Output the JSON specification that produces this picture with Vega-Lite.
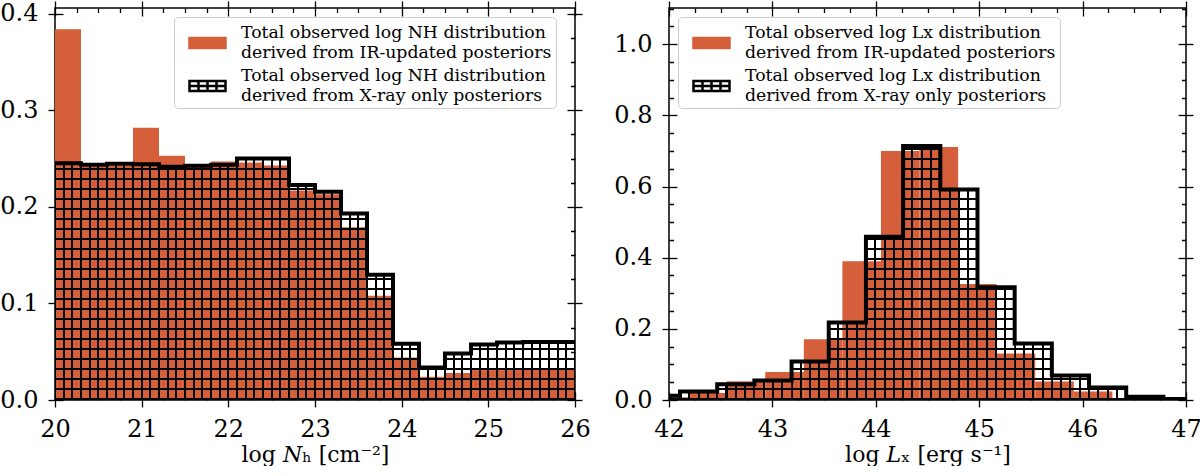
{
  "$schema": "https://vega.github.io/schema/vega-lite/v6.json",
  "padding": {"left": -1, "top": -5, "right": 0, "bottom": 0},
  "spacing": 21,
  "datasets": {
    "nh_ir": [
      {"x0": 20.0, "x1": 20.3, "h": 0.384, "series": "IR"},
      {"x0": 20.3, "x1": 20.6, "h": 0.242, "series": "IR"},
      {"x0": 20.6, "x1": 20.9, "h": 0.243, "series": "IR"},
      {"x0": 20.9, "x1": 21.2, "h": 0.282, "series": "IR"},
      {"x0": 21.2, "x1": 21.5, "h": 0.253, "series": "IR"},
      {"x0": 21.5, "x1": 21.8, "h": 0.242, "series": "IR"},
      {"x0": 21.8, "x1": 22.1, "h": 0.247, "series": "IR"},
      {"x0": 22.1, "x1": 22.4, "h": 0.246, "series": "IR"},
      {"x0": 22.4, "x1": 22.7, "h": 0.243, "series": "IR"},
      {"x0": 22.7, "x1": 23.0, "h": 0.217, "series": "IR"},
      {"x0": 23.0, "x1": 23.3, "h": 0.213, "series": "IR"},
      {"x0": 23.3, "x1": 23.6, "h": 0.179, "series": "IR"},
      {"x0": 23.6, "x1": 23.9, "h": 0.108, "series": "IR"},
      {"x0": 23.9, "x1": 24.2, "h": 0.044, "series": "IR"},
      {"x0": 24.2, "x1": 24.5, "h": 0.024, "series": "IR"},
      {"x0": 24.5, "x1": 24.8, "h": 0.028, "series": "IR"},
      {"x0": 24.8, "x1": 25.1, "h": 0.031, "series": "IR"},
      {"x0": 25.1, "x1": 25.4, "h": 0.031, "series": "IR"},
      {"x0": 25.4, "x1": 25.7, "h": 0.032, "series": "IR"},
      {"x0": 25.7, "x1": 26.0, "h": 0.032, "series": "IR"}
    ],
    "nh_xr": [
      {"x0": 20.0, "x1": 20.3, "h": 0.2451},
      {"x0": 20.3, "x1": 20.6, "h": 0.2437},
      {"x0": 20.6, "x1": 20.9, "h": 0.2448},
      {"x0": 20.9, "x1": 21.2, "h": 0.2441},
      {"x0": 21.2, "x1": 21.5, "h": 0.2417},
      {"x0": 21.5, "x1": 21.8, "h": 0.2427},
      {"x0": 21.8, "x1": 22.1, "h": 0.2437},
      {"x0": 22.1, "x1": 22.4, "h": 0.2502},
      {"x0": 22.4, "x1": 22.7, "h": 0.2502},
      {"x0": 22.7, "x1": 23.0, "h": 0.2227},
      {"x0": 23.0, "x1": 23.3, "h": 0.2158},
      {"x0": 23.3, "x1": 23.6, "h": 0.1931},
      {"x0": 23.6, "x1": 23.9, "h": 0.1298},
      {"x0": 23.9, "x1": 24.2, "h": 0.0582},
      {"x0": 24.2, "x1": 24.5, "h": 0.0337},
      {"x0": 24.5, "x1": 24.8, "h": 0.0482},
      {"x0": 24.8, "x1": 25.1, "h": 0.0575},
      {"x0": 25.1, "x1": 25.4, "h": 0.0596},
      {"x0": 25.4, "x1": 25.7, "h": 0.0602},
      {"x0": 25.7, "x1": 26.0, "h": 0.0602}
    ],
    "lx_ir": [
      {"x0": 41.812, "x1": 42.185, "h": 0.008, "series": "IR"},
      {"x0": 42.185, "x1": 42.558, "h": 0.02, "series": "IR"},
      {"x0": 42.558, "x1": 42.931, "h": 0.053, "series": "IR"},
      {"x0": 42.931, "x1": 43.304, "h": 0.079, "series": "IR"},
      {"x0": 43.304, "x1": 43.677, "h": 0.171, "series": "IR"},
      {"x0": 43.677, "x1": 44.05, "h": 0.39, "series": "IR"},
      {"x0": 44.05, "x1": 44.423, "h": 0.70, "series": "IR"},
      {"x0": 44.423, "x1": 44.796, "h": 0.711, "series": "IR"},
      {"x0": 44.796, "x1": 45.169, "h": 0.326, "series": "IR"},
      {"x0": 45.169, "x1": 45.542, "h": 0.131, "series": "IR"},
      {"x0": 45.542, "x1": 45.915, "h": 0.052, "series": "IR"},
      {"x0": 45.915, "x1": 46.288, "h": 0.024, "series": "IR"},
      {"x0": 46.288, "x1": 46.661, "h": 0.004, "series": "IR"}
    ],
    "lx_xr": [
      {"x0": 41.747, "x1": 42.1066, "h": 0.012},
      {"x0": 42.1066, "x1": 42.4662, "h": 0.024},
      {"x0": 42.4662, "x1": 42.8258, "h": 0.044},
      {"x0": 42.8258, "x1": 43.1854, "h": 0.055},
      {"x0": 43.1854, "x1": 43.545, "h": 0.108},
      {"x0": 43.545, "x1": 43.9046, "h": 0.218},
      {"x0": 43.9046, "x1": 44.2642, "h": 0.459},
      {"x0": 44.2642, "x1": 44.6238, "h": 0.714},
      {"x0": 44.6238, "x1": 44.9834, "h": 0.592},
      {"x0": 44.9834, "x1": 45.343, "h": 0.317},
      {"x0": 45.343, "x1": 45.7026, "h": 0.159},
      {"x0": 45.7026, "x1": 46.0622, "h": 0.069},
      {"x0": 46.0622, "x1": 46.4218, "h": 0.035},
      {"x0": 46.4218, "x1": 46.7814, "h": 0.009},
      {"x0": 46.7814, "x1": 47.141, "h": 0.003}
    ]
  },
  "resolve": {
    "scale": {"fill": "independent", "stroke": "independent"},
    "legend": {"fill": "independent", "stroke": "independent"}
  },
  "hconcat": [
    {
      "width": 520,
      "height": 392,
      "resolve": {"axis": {"x": "independent", "y": "independent"}},
      "layer": [
        {
          "data": {"name": "nh_ir"},
          "mark": {"type": "bar", "clip": true, "strokeWidth": 0},
          "encoding": {
            "x": {"field": "x0", "type": "quantitative", "scale": {"domain": [20, 26], "nice": false, "zero": false},
              "axis": {"orient": "bottom", "title": "log 𝑁ₕ [cm⁻²]", "labelFont": "DejaVu Serif", "labelFontSize": 24,
                "values": [20,20.25,20.5,20.75,21,21.25,21.5,21.75,22,22.25,22.5,22.75,23,23.25,23.5,23.75,24,24.25,24.5,24.75,25,25.25,25.5,25.75,26],
                "labelExpr": "datum.value % 1 == 0 ? format(datum.value, 'd') : ''",
                "tickDash": {"condition": {"test": "datum.value % 1 != 0", "value": [0, 3.5, 4.5, 50]}, "value": [15, 0]}}},
            "x2": {"field": "x1"},
            "y": {"field": "h", "type": "quantitative", "scale": {"domain": [0, 0.406], "nice": false},
              "axis": {"orient": "left", "title": null, "labelFont": "DejaVu Serif", "labelFontSize": 24,
                "values": [0,0.025,0.05,0.075,0.1,0.125,0.15,0.175,0.2,0.225,0.25,0.275,0.3,0.325,0.35,0.375,0.4],
                "labelExpr": "abs(datum.value*10 - round(datum.value*10)) > 0.001 ? '' : format(datum.value, '.1f')",
                "tickDash": {"condition": {"test": "abs(datum.value*10 - round(datum.value*10)) > 0.001", "value": [0, 3.5, 4.5, 50]}, "value": [15, 0]}}},
            "y2": {"datum": 0},
            "fill": {"field": "series", "type": "nominal", "scale": {"domain": ["IR", "Xray"], "range": ["#d45f3a", "white"]},
              "legend": {"title": null, "orient": "none", "legendX": 119, "legendY": 9, "padding": 4, "symbolOffset": 18, "labelOffset": 22, "rowPadding": 3,
                "symbolType": "M-1.8,0.55H1.8V1.55H-1.8Z M-0.9,0.55V1.55 M0,0.55V1.55 M0.9,0.55V1.55 M-1.8,1.05H1.8", "symbolSize": 400, "symbolStrokeWidth": 2.5,
                "labelFont": "DejaVu Serif", "labelFontSize": 17.3, "labelColor": "black", "labelLimit": 0, "labelBaseline": "middle",
                "labelExpr": "datum.value == 'IR' ? ['Total observed log NH distribution', '\u00a0derived from IR-updated posteriors'] : ['Total observed log NH distribution', '\u00a0derived from X-ray only posteriors']",
                "strokeColor": "#cccccc", "fillColor": "rgba(255,255,255,0.8)", "cornerRadius": 4}},
            "stroke": {"field": "series", "type": "nominal", "scale": {"domain": ["IR", "Xray"], "range": ["#d45f3a", "black"]},
              "legend": {"title": null, "orient": "none", "legendX": 119, "legendY": 9, "padding": 4, "symbolOffset": 18, "labelOffset": 22, "rowPadding": 3,
                "symbolType": "M-1.8,0.55H1.8V1.55H-1.8Z M-0.9,0.55V1.55 M0,0.55V1.55 M0.9,0.55V1.55 M-1.8,1.05H1.8", "symbolSize": 400, "symbolStrokeWidth": 2.5,
                "labelFont": "DejaVu Serif", "labelFontSize": 17.3, "labelColor": "black", "labelLimit": 0, "labelBaseline": "middle",
                "labelExpr": "datum.value == 'IR' ? ['Total observed log NH distribution', '\u00a0derived from IR-updated posteriors'] : ['Total observed log NH distribution', '\u00a0derived from X-ray only posteriors']",
                "strokeColor": "#cccccc", "fillColor": "rgba(255,255,255,0.8)", "cornerRadius": 4}}
          }
        },
        {
          "data": {"name": "nh_xr"},
          "mark": {"type": "bar", "clip": true, "strokeWidth": 0,
            "fill": {"gradient": "linear", "x1": 0, "y1": 0, "x2": 1, "y2": 0, "stops": [
              {"offset": 0, "color": "black"}, {"offset": 0.04, "color": "black"},
              {"offset": 0.04, "color": "rgba(0,0,0,0)"}, {"offset": 0.295, "color": "rgba(0,0,0,0)"},
              {"offset": 0.295, "color": "black"}, {"offset": 0.372, "color": "black"},
              {"offset": 0.372, "color": "rgba(0,0,0,0)"}, {"offset": 0.628, "color": "rgba(0,0,0,0)"},
              {"offset": 0.628, "color": "black"}, {"offset": 0.705, "color": "black"},
              {"offset": 0.705, "color": "rgba(0,0,0,0)"}, {"offset": 0.96, "color": "rgba(0,0,0,0)"},
              {"offset": 0.96, "color": "black"}, {"offset": 1, "color": "black"}]}},
          "encoding": {
            "x": {"field": "x0", "type": "quantitative", "scale": {"domain": [20, 26], "nice": false, "zero": false},
              "axis": {"orient": "top", "title": null, "labels": false,
                "values": [20,20.25,20.5,20.75,21,21.25,21.5,21.75,22,22.25,22.5,22.75,23,23.25,23.5,23.75,24,24.25,24.5,24.75,25,25.25,25.5,25.75,26],
                "tickDash": {"condition": {"test": "datum.value % 1 != 0", "value": [0, 3.5, 4.5, 50]}, "value": [15, 0]}}},
            "x2": {"field": "x1"},
            "y": {"field": "h", "type": "quantitative", "scale": {"domain": [0, 0.406], "nice": false},
              "axis": {"orient": "right", "title": null, "labels": false,
                "values": [0,0.025,0.05,0.075,0.1,0.125,0.15,0.175,0.2,0.225,0.25,0.275,0.3,0.325,0.35,0.375,0.4],
                "tickDash": {"condition": {"test": "abs(datum.value*10 - round(datum.value*10)) > 0.001", "value": [0, 3.5, 4.5, 50]}, "value": [15, 0]}}},
            "y2": {"datum": 0}
          }
        },
        {
          "data": {"name": "nh_xr"},
          "transform": [{"joinaggregate": [{"op": "missing", "field": "h", "as": "base"}]}],
          "mark": {"type": "rule", "clip": true, "color": "black", "strokeWidth": 26.5, "strokeDash": [2, 8], "strokeCap": "butt", "xOffset": 13},
          "encoding": {
            "x": {"field": "x0", "type": "quantitative", "axis": null},
            "y": {"field": "base", "type": "quantitative", "axis": null},
            "y2": {"field": "h"}
          }
        },
        {
          "data": {"name": "nh_xr"},
          "transform": [{"fold": ["x0", "x1"], "as": ["edge", "xv"]}],
          "mark": {"type": "line", "clip": true, "color": "black", "strokeWidth": 4, "strokeJoin": "miter"},
          "encoding": {
            "x": {"field": "xv", "type": "quantitative", "axis": null},
            "y": {"field": "h", "type": "quantitative", "axis": null}
          }
        }
      ]
    },
    {
      "width": 517,
      "height": 392,
      "resolve": {"axis": {"x": "independent", "y": "independent"}},
      "layer": [
        {
          "data": {"name": "lx_ir"},
          "mark": {"type": "bar", "clip": true, "strokeWidth": 0},
          "encoding": {
            "x": {"field": "x0", "type": "quantitative", "scale": {"domain": [42, 47], "nice": false, "zero": false},
              "axis": {"orient": "bottom", "title": "log 𝐿ₓ [erg s⁻¹]", "labelFont": "DejaVu Serif", "labelFontSize": 24,
                "values": [42,42.25,42.5,42.75,43,43.25,43.5,43.75,44,44.25,44.5,44.75,45,45.25,45.5,45.75,46,46.25,46.5,46.75,47],
                "labelExpr": "datum.value % 1 == 0 ? format(datum.value, 'd') : ''",
                "tickDash": {"condition": {"test": "datum.value % 1 != 0", "value": [0, 3.5, 4.5, 50]}, "value": [15, 0]}}},
            "x2": {"field": "x1"},
            "y": {"field": "h", "type": "quantitative", "scale": {"domain": [0, 1.102], "nice": false},
              "axis": {"orient": "left", "title": null, "labelFont": "DejaVu Serif", "labelFontSize": 24,
                "values": [0,0.05,0.1,0.15,0.2,0.25,0.3,0.35,0.4,0.45,0.5,0.55,0.6,0.65,0.7,0.75,0.8,0.85,0.9,0.95,1.0,1.05,1.1],
                "labelExpr": "abs(datum.value*5 - round(datum.value*5)) > 0.001 ? '' : format(datum.value, '.1f')",
                "tickDash": {"condition": {"test": "abs(datum.value*5 - round(datum.value*5)) > 0.001", "value": [0, 3.5, 4.5, 50]}, "value": [15, 0]}}},
            "y2": {"datum": 0},
            "fill": {"field": "series", "type": "nominal", "scale": {"domain": ["IR", "Xray"], "range": ["#d45f3a", "white"]},
              "legend": {"title": null, "orient": "none", "legendX": 9, "legendY": 9, "padding": 4, "symbolOffset": 18, "labelOffset": 22, "rowPadding": 3,
                "symbolType": "M-1.8,0.55H1.8V1.55H-1.8Z M-0.9,0.55V1.55 M0,0.55V1.55 M0.9,0.55V1.55 M-1.8,1.05H1.8", "symbolSize": 400, "symbolStrokeWidth": 2.5,
                "labelFont": "DejaVu Serif", "labelFontSize": 17.3, "labelColor": "black", "labelLimit": 0, "labelBaseline": "middle",
                "labelExpr": "datum.value == 'IR' ? ['Total observed log Lx distribution', '\u00a0derived from IR-updated posteriors'] : ['Total observed log Lx distribution', '\u00a0derived from X-ray only posteriors']",
                "strokeColor": "#cccccc", "fillColor": "rgba(255,255,255,0.8)", "cornerRadius": 4}},
            "stroke": {"field": "series", "type": "nominal", "scale": {"domain": ["IR", "Xray"], "range": ["#d45f3a", "black"]},
              "legend": {"title": null, "orient": "none", "legendX": 9, "legendY": 9, "padding": 4, "symbolOffset": 18, "labelOffset": 22, "rowPadding": 3,
                "symbolType": "M-1.8,0.55H1.8V1.55H-1.8Z M-0.9,0.55V1.55 M0,0.55V1.55 M0.9,0.55V1.55 M-1.8,1.05H1.8", "symbolSize": 400, "symbolStrokeWidth": 2.5,
                "labelFont": "DejaVu Serif", "labelFontSize": 17.3, "labelColor": "black", "labelLimit": 0, "labelBaseline": "middle",
                "labelExpr": "datum.value == 'IR' ? ['Total observed log Lx distribution', '\u00a0derived from IR-updated posteriors'] : ['Total observed log Lx distribution', '\u00a0derived from X-ray only posteriors']",
                "strokeColor": "#cccccc", "fillColor": "rgba(255,255,255,0.8)", "cornerRadius": 4}}
          }
        },
        {
          "data": {"name": "lx_xr"},
          "mark": {"type": "bar", "clip": true, "strokeWidth": 0,
            "fill": {"gradient": "linear", "x1": 0, "y1": 0, "x2": 1, "y2": 0, "stops": [
              {"offset": 0, "color": "black"}, {"offset": 0.027, "color": "black"},
              {"offset": 0.027, "color": "rgba(0,0,0,0)"}, {"offset": 0.223, "color": "rgba(0,0,0,0)"},
              {"offset": 0.223, "color": "black"}, {"offset": 0.277, "color": "black"},
              {"offset": 0.277, "color": "rgba(0,0,0,0)"}, {"offset": 0.473, "color": "rgba(0,0,0,0)"},
              {"offset": 0.473, "color": "black"}, {"offset": 0.527, "color": "black"},
              {"offset": 0.527, "color": "rgba(0,0,0,0)"}, {"offset": 0.723, "color": "rgba(0,0,0,0)"},
              {"offset": 0.723, "color": "black"}, {"offset": 0.777, "color": "black"},
              {"offset": 0.777, "color": "rgba(0,0,0,0)"}, {"offset": 0.973, "color": "rgba(0,0,0,0)"},
              {"offset": 0.973, "color": "black"}, {"offset": 1, "color": "black"}]}},
          "encoding": {
            "x": {"field": "x0", "type": "quantitative", "scale": {"domain": [42, 47], "nice": false, "zero": false},
              "axis": {"orient": "top", "title": null, "labels": false,
                "values": [42,42.25,42.5,42.75,43,43.25,43.5,43.75,44,44.25,44.5,44.75,45,45.25,45.5,45.75,46,46.25,46.5,46.75,47],
                "tickDash": {"condition": {"test": "datum.value % 1 != 0", "value": [0, 3.5, 4.5, 50]}, "value": [15, 0]}}},
            "x2": {"field": "x1"},
            "y": {"field": "h", "type": "quantitative", "scale": {"domain": [0, 1.102], "nice": false},
              "axis": {"orient": "right", "title": null, "labels": false,
                "values": [0,0.05,0.1,0.15,0.2,0.25,0.3,0.35,0.4,0.45,0.5,0.55,0.6,0.65,0.7,0.75,0.8,0.85,0.9,0.95,1.0,1.05,1.1],
                "tickDash": {"condition": {"test": "abs(datum.value*5 - round(datum.value*5)) > 0.001", "value": [0, 3.5, 4.5, 50]}, "value": [15, 0]}}},
            "y2": {"datum": 0}
          }
        },
        {
          "data": {"name": "lx_xr"},
          "transform": [{"joinaggregate": [{"op": "missing", "field": "h", "as": "base"}]}],
          "mark": {"type": "rule", "clip": true, "color": "black", "strokeWidth": 37.7, "strokeDash": [2, 8], "strokeCap": "butt", "xOffset": 18.59},
          "encoding": {
            "x": {"field": "x0", "type": "quantitative", "axis": null},
            "y": {"field": "base", "type": "quantitative", "axis": null},
            "y2": {"field": "h"}
          }
        },
        {
          "data": {"name": "lx_xr"},
          "transform": [{"fold": ["x0", "x1"], "as": ["edge", "xv"]}],
          "mark": {"type": "line", "clip": true, "color": "black", "strokeWidth": 4, "strokeJoin": "miter"},
          "encoding": {
            "x": {"field": "xv", "type": "quantitative", "axis": null},
            "y": {"field": "h", "type": "quantitative", "axis": null}
          }
        }
      ]
    }
  ],
  "config": {
    "view": {"stroke": "black", "strokeWidth": 1.5},
    "axis": {"domain": false, "grid": false, "offset": -8, "tickSize": 15, "tickWidth": 1.3, "tickColor": "black",
      "labelFont": "DejaVu Serif", "labelFontSize": 24, "labelColor": "black", "labelPadding": 10,
      "labelOverlap": false, "labelFlush": false, "labelBound": false,
      "titleFont": "DejaVu Serif", "titleFontSize": 22, "titleFontWeight": "normal", "titleColor": "black", "titlePadding": 3},
    "style": {"guide-label": {"lineHeight": 20, "font": "DejaVu Serif", "fill": "black"}}
  }
}
